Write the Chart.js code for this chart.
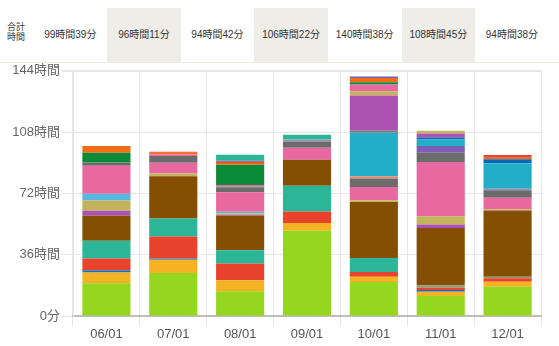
<!DOCTYPE html>
<html>
<head>
<meta charset="utf-8">
<script src="https://cdn.jsdelivr.net/npm/chart.js@4/dist/chart.umd.min.js"></script>
<style>
  body { margin: 0; background: #fff; font-family: Arial, "Liberation Sans", "Noto Sans CJK JP", sans-serif; }
  #wrap { position: relative; width: 559px; height: 346px; overflow: hidden; }
  #head { position: absolute; left: 0; top: 8px; width: 559px; height: 54px; border-bottom: 1px solid #ece9e1; }
  #head .lbl { position: absolute; left: 7px; top: 15px; font-size: 9px; line-height: 9.5px; color: #333; }
  #head .cell { position: absolute; top: 0; height: 54px; line-height: 54px; text-align: center; font-size: 10px; color: #333; }
  #head .cell.alt { background: #efede8; }
  #chart { position: absolute; left: 0; top: 61px; }
</style>
</head>
<body>
<div id="wrap">
  <div id="head"><div class="lbl">合計<br>時間</div></div>
  <canvas id="chart" width="559" height="285"></canvas>
</div>
<script>
// months on the x axis and the totals shown in the header row
var categories = ["06/01", "07/01", "08/01", "09/01", "10/01", "11/01", "12/01"];
var totals = ["99時間39分", "96時間11分", "94時間42分", "106時間22分", "140時間38分", "108時間45分", "94時間38分"];
var yTicks = [0, 36, 72, 108, 144];

// hours per series, stacked from the bottom up
var lime      = [19.2, 25.2, 14.5, 50.1, 20.0, 11.7, 17.2];
var yellow    = [6.3, 7.8, 6.5, 4.5, 3.1, 2.5, 2.9];
var blue      = [1.4, 0.8, 0, 0, 0, 1.0, 0];
var red       = [6.9, 12.9, 9.8, 6.8, 2.7, 1.4, 2.0];
var olive     = [0, 0, 0, 0, 0, 1.4, 1.0];
var teal      = [10.4, 10.6, 7.8, 15.1, 8.2, 0, 0];
var brown     = [14.7, 24.8, 20.3, 15.3, 33.0, 33.7, 38.8];
var purple    = [2.9, 0, 0.6, 0, 0, 2.0, 0];
var khaki     = [6.1, 1.6, 0.9, 0, 1.0, 4.9, 0.8];
var skyBlue   = [3.9, 0, 0.8, 0, 0, 0, 0];
var pink      = [16.4, 6.3, 11.5, 7.0, 7.8, 31.8, 6.8];
var gray      = [2.0, 3.9, 2.9, 3.7, 4.9, 5.5, 4.3];
var salmon    = [0, 0, 0, 0, 1.4, 0, 0];
var lavender  = [0, 0, 0, 1.2, 0, 0, 1.0];
var violet    = [0, 0, 0, 0, 0, 3.9, 0];
var cyan      = [0, 0, 0, 0, 25.5, 3.9, 14.9];
var navy      = [0, 0, 0, 0, 0, 1.2, 2.3];
var gray2     = [0, 0, 0.5, 0, 1.2, 0, 0];
var purple2   = [0, 0, 0, 0, 20.7, 2.3, 0];
var khaki2    = [0, 0, 0, 0, 2.5, 1.6, 0];
var pink2     = [0, 1.0, 0.8, 0, 3.9, 0, 0];
var darkGreen = [5.7, 0, 11.9, 0, 1.4, 0, 0];
var orange    = [3.9, 1.0, 1.0, 0, 2.5, 0, 1.0];
var red2      = [0, 0.6, 0.8, 0, 0, 0, 1.6];
var violet2   = [0, 0, 0.6, 0, 0.8, 0, 0];
var teal2     = [0, 0, 3.5, 2.7, 0, 0, 0];

var series = [
    [lime, "#95d61e"], [yellow, "#f5b324"], [blue, "#1f70b8"], [red, "#e8432d"],
    [olive, "#8c9a6c"], [teal, "#2bb698"], [brown, "#844f00"], [purple, "#ab52b0"],
    [khaki, "#c3b35c"], [skyBlue, "#5bb5e0"], [pink, "#e8699f"], [gray, "#6b6b6b"],
    [salmon, "#e28a6d"], [lavender, "#9a8fb5"], [violet, "#7a5db5"], [cyan, "#21aec6"],
    [navy, "#0b66b5"], [gray2, "#7c7c7c"], [purple2, "#ac52b0"], [khaki2, "#c3b35c"],
    [pink2, "#e8699f"], [darkGreen, "#0b8a37"], [orange, "#f06d1c"], [red2, "#e8432d"],
    [violet2, "#7a5db5"], [teal2, "#2bb698"]
];

// header cells
var head = document.getElementById("head");
var cellLeft = 33.5, cellW = 73.6;
totals.forEach(function(t, i) {
    var d = document.createElement("div");
    d.className = "cell" + (i % 2 ? " alt" : "");
    d.style.left = (cellLeft + i * cellW) + "px";
    d.style.width = cellW + "px";
    d.textContent = t;
    head.appendChild(d);
});

var datasets = series.map(function(s, i) {
    return {
        label: "s" + i,
        data: s[0],
        backgroundColor: s[1],
        borderWidth: 0,
        barPercentage: 0.72,
        categoryPercentage: 1
    };
});

var font = { family: "Arial, 'Liberation Sans', 'Noto Sans CJK JP', sans-serif", size: 13 };

new Chart(document.getElementById("chart").getContext("2d"), {
    type: "bar",
    data: { labels: categories, datasets: datasets },
    options: {
        responsive: false,
        animation: false,
        layout: { padding: { top: 5, right: 18, left: 0, bottom: 0 } },
        plugins: { legend: { display: false }, tooltip: { enabled: false } },
        scales: {
            x: {
                stacked: true,
                afterFit: function(scale) { scale.height = 30; },
                grid: { color: "#e6e6e6", tickLength: 10, offset: true },
                border: { color: "#bdbdbd", width: 2 },
                ticks: { color: "#555", font: font, padding: 1 }
            },
            y: {
                stacked: true,
                min: 0,
                max: 144,
                afterFit: function(scale) { scale.width = 73; },
                afterBuildTicks: function(scale) {
                    scale.ticks = yTicks.map(function(v) { return { value: v }; });
                },
                grid: {
                    color: "#e6e6e6",
                    tickLength: 11,
                    lineWidth: function(c) { return c.tick && c.tick.value === 144 ? 2 : 1; }
                },
                border: { color: "#e6e6e6" },
                ticks: {
                    color: "#666",
                    font: font,
                    padding: 2,
                    callback: function(v) { return v === 0 ? "0分" : v + "時間"; }
                }
            }
        }
    }
});
</script>
</body>
</html>
